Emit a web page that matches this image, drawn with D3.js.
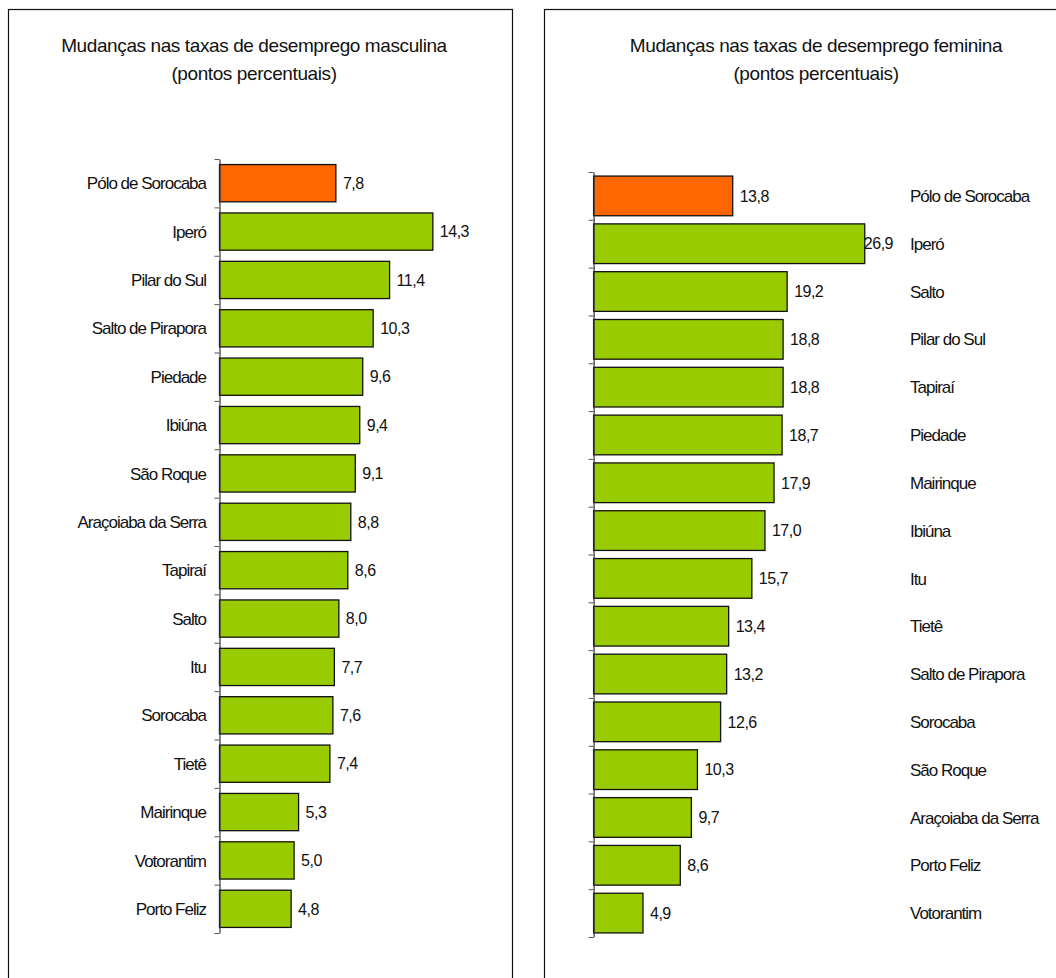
<!DOCTYPE html>
<html>
<head>
<meta charset="utf-8">
<script src="https://cdn.jsdelivr.net/npm/d3@7"></script>
<style>
  html, body { margin: 0; padding: 0; background: #fff; }
  svg text { font-family: "Liberation Sans", Arial, sans-serif; fill: #111; }
</style>
</head>
<body>
<svg id="chart" width="1056" height="978"></svg>
<script>
// Variação das taxas de desemprego por município (pontos percentuais)
const maleCategories = [
  "Pólo de Sorocaba", "Iperó", "Pilar do Sul", "Salto de Pirapora", "Piedade",
  "Ibiúna", "São Roque", "Araçoiaba da Serra", "Tapiraí", "Salto", "Itu",
  "Sorocaba", "Tietê", "Mairinque", "Votorantim", "Porto Feliz"
];
const maleValues = [7.8, 14.3, 11.4, 10.3, 9.6, 9.4, 9.1, 8.8, 8.6, 8.0, 7.7, 7.6, 7.4, 5.3, 5.0, 4.8];

const femaleCategories = [
  "Pólo de Sorocaba", "Iperó", "Salto", "Pilar do Sul", "Tapiraí", "Piedade",
  "Mairinque", "Ibiúna", "Itu", "Tietê", "Salto de Pirapora", "Sorocaba",
  "São Roque", "Araçoiaba da Serra", "Porto Feliz", "Votorantim"
];
const femaleValues = [13.8, 26.9, 19.2, 18.8, 18.8, 18.7, 17.9, 17.0, 15.7, 13.4, 13.2, 12.6, 10.3, 9.7, 8.6, 4.9];

const maleTitle = ["Mudanças nas taxas de desemprego masculina", "(pontos percentuais)"];
const femaleTitle = ["Mudanças nas taxas de desemprego feminina", "(pontos percentuais)"];

const highlightName = "Pólo de Sorocaba";
const fmt = v => d3.format(".1f")(v).replace(".", ",");

const svg = d3.select("#chart");

function panel(cfg) {
  const g = svg.append("g");

  // moldura do painel
  g.append("rect")
    .attr("x", cfg.frame[0] + 0.5).attr("y", cfg.frame[1] + 0.5)
    .attr("width", cfg.frame[2]).attr("height", cfg.frame[3])
    .attr("fill", "#fff").attr("stroke", "#111").attr("stroke-width", 1.2);

  // título
  g.append("text")
    .attr("x", cfg.titleX).attr("y", 52)
    .attr("text-anchor", "middle")
    .style("font-size", "19px").style("letter-spacing", "-0.4px")
    .selectAll("tspan").data(cfg.title).join("tspan")
    .attr("x", cfg.titleX).attr("dy", (d, i) => i === 0 ? 0 : 28)
    .text(d => d);

  const data = cfg.categories.map((c, i) => ({ name: c, value: cfg.values[i] }));

  const y = d3.scaleBand().domain(cfg.categories)
    .range([cfg.top, cfg.bottom]).paddingInner(cfg.pad).paddingOuter(cfg.pad / 2);
  const x = d3.scaleLinear().domain([0, cfg.maxValue]).range([cfg.x0, cfg.x1]);
  const edges = d3.scaleLinear().domain([0, cfg.categories.length]).range([cfg.top, cfg.bottom]);

  // barras
  g.selectAll("rect.bar").data(data).join("rect")
    .attr("class", "bar")
    .attr("x", x(0))
    .attr("y", d => y(d.name))
    .attr("width", d => x(d.value) - x(0))
    .attr("height", y.bandwidth())
    .attr("fill", d => d.name === highlightName ? "#FF6600" : "#99CC00")
    .attr("stroke", "#111").attr("stroke-width", 1.3);

  // eixo de categorias com marcas nas divisões
  const axis = g.append("g")
    .attr("transform", `translate(${x(0)},0)`)
    .call(d3.axisLeft(edges)
      .tickValues(d3.range(cfg.categories.length + 1))
      .tickFormat("")
      .tickSizeInner(5).tickSizeOuter(0));
  axis.select(".domain").attr("stroke", "#333").attr("stroke-width", 1.2);
  axis.selectAll(".tick line").attr("stroke", "#555");

  // rótulos de valor
  g.selectAll("text.val").data(data).join("text")
    .attr("class", "val")
    .attr("y", d => y(d.name) + y.bandwidth() / 2)
    .attr("dy", "0.36em")
    .style("font-size", "16px").style("letter-spacing", "-0.5px")
    .text(d => fmt(d.value))
    .attr("x", function (d) {
      const w = this.getComputedTextLength();
      const pos = x(d.value) + 7;
      return cfg.labelLimit ? Math.min(pos, cfg.labelLimit - w) : pos;
    });

  // nomes dos municípios
  g.selectAll("text.cat").data(data).join("text")
    .attr("class", "cat")
    .attr("x", cfg.catX)
    .attr("y", d => y(d.name) + y.bandwidth() / 2)
    .attr("dy", "0.36em")
    .attr("text-anchor", cfg.catAnchor)
    .style("font-size", "17px").style("letter-spacing", "-1px")
    .text(d => d.name);
}

panel({
  frame: [8, 9, 504, 1000],
  title: maleTitle, titleX: 254,
  categories: maleCategories, values: maleValues,
  top: 159, bottom: 933, pad: 0.23,
  x0: 219.5, x1: 219.5 + 16 * 14.92, maxValue: 16,
  catX: 206, catAnchor: "end",
  labelLimit: null
});

panel({
  frame: [544, 9, 540, 1000],
  title: femaleTitle, titleX: 816,
  categories: femaleCategories, values: femaleValues,
  top: 172, bottom: 937, pad: 0.17,
  x0: 593.6, x1: 593.6 + 30 * 10.08, maxValue: 30,
  catX: 910, catAnchor: "start",
  labelLimit: 893
});
</script>
</body>
</html>
